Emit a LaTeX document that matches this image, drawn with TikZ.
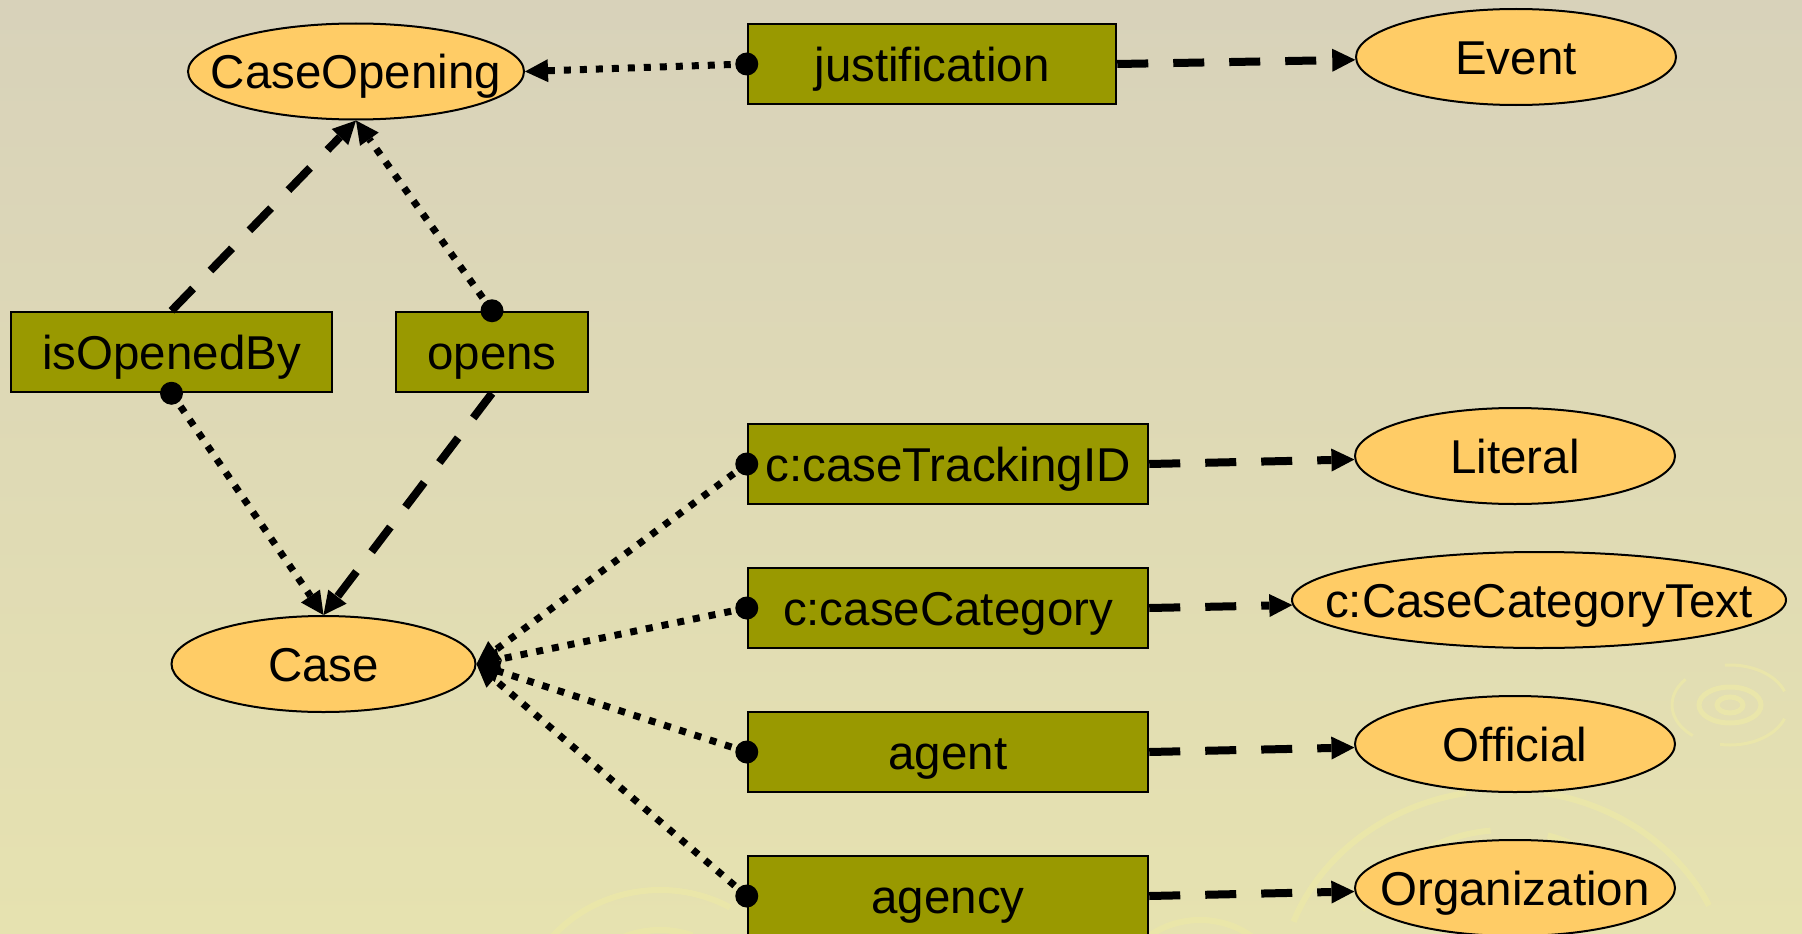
\documentclass[tikz,border=0pt]{standalone}
\usepackage{fontspec}
\setmainfont{Liberation Sans}
\usetikzlibrary{shapes.geometric,arrows.meta}
\definecolor{bgA}{RGB}{216,210,186}
\definecolor{bgB}{RGB}{230,226,176}
\definecolor{ringc}{RGB}{236,232,168}
\definecolor{boxfill}{RGB}{153,153,0}
\definecolor{ellfill}{RGB}{255,204,102}
\begin{document}
\begin{tikzpicture}[x=1pt,y=-1pt,
  every node/.style={font=\fontsize{47.5}{57}\selectfont, text=black, text height=34.5pt, text depth=0pt},
  prop/.style={draw=black, line width=2.5pt, fill=boxfill, rectangle, inner sep=0pt, minimum height=80pt},
  cls/.style={draw=black, line width=2pt, fill=ellfill, ellipse, inner sep=0pt, minimum height=96pt},
  dotline/.style={line width=7pt, dash pattern=on 7pt off 9pt},
  dashline/.style={line width=8pt, dash pattern=on 31pt off 25pt},
  tip/.style={-{Triangle[length=23pt,width=23pt,line width=0pt]}},
  orn/.style={draw=ringc, line width=6pt, opacity=0.8},
]
\useasboundingbox (0,0) rectangle (1802,934);
\shade[top color=bgA, middle color=bgA, bottom color=bgB] (0,0) rectangle (1802,934);

% faint background ornaments
\draw[orn, line width=5pt] (1730,705) ellipse [x radius=13pt, y radius=8pt];
\draw[orn, line width=5pt] (1730,705) ellipse [x radius=31pt, y radius=18pt];
\draw[orn, line width=3pt] (1730,705) ++(20:58pt and 40pt) arc[start angle=20, end angle=95, x radius=58pt, y radius=40pt];
\draw[orn, line width=3pt] (1730,705) ++(140:58pt and 40pt) arc[start angle=140, end angle=230, x radius=58pt, y radius=40pt];
\draw[orn, line width=3pt] (1730,705) ++(260:58pt and 40pt) arc[start angle=260, end angle=340, x radius=58pt, y radius=40pt];
\draw[orn] (1505,990) ++(25:225pt and 200pt) arc[start angle=25, end angle=80, x radius=225pt, y radius=200pt];
\draw[orn] (1505,990) ++(100:225pt and 200pt) arc[start angle=100, end angle=160, x radius=225pt, y radius=200pt];
\draw[orn] (1505,990) ++(35:165pt and 160pt) arc[start angle=35, end angle=75, x radius=165pt, y radius=160pt];
\draw[orn] (1505,990) ++(95:165pt and 160pt) arc[start angle=95, end angle=150, x radius=165pt, y radius=160pt];
\draw[orn] (1505,990) ++(40:105pt and 100pt) arc[start angle=40, end angle=140, x radius=105pt, y radius=100pt];
\draw[orn] (1200,990) ++(30:80pt and 70pt) arc[start angle=30, end angle=150, x radius=80pt, y radius=70pt];
\draw[orn] (660,1020) ++(60:140pt and 130pt) arc[start angle=60, end angle=150, x radius=140pt, y radius=130pt];
\draw[orn] (660,1020) ++(70:95pt and 90pt) arc[start angle=70, end angle=130, x radius=95pt, y radius=90pt];

% class nodes (ellipses)
\node[cls, minimum width=336pt] (co) at (356,71.5) {\makebox[0pt]{CaseOpening}};
\node[cls, minimum width=320pt] (event) at (1516,57) {\makebox[0pt]{Event}};
\node[cls, minimum width=304pt] (case) at (323.5,664) {\makebox[0pt]{Case}};
\node[cls, minimum width=320pt] (lit) at (1515,456) {\makebox[0pt]{Literal}};
\node[cls, minimum width=494pt] (cct) at (1539,600) {\makebox[0pt]{c:CaseCategoryText}};
\node[cls, minimum width=320pt] (off) at (1515,744) {\makebox[0pt]{Official}};
\node[cls, minimum width=320pt] (org) at (1515,888) {\makebox[0pt]{Organization}};

% property nodes (boxes)
\node[prop, minimum width=368pt] (just) at (932,64) {justification};
\node[prop, minimum width=321pt] (iob) at (171.5,352) {isOpenedBy};
\node[prop, minimum width=192pt] (opens) at (492,352) {opens};
\node[prop, minimum width=400pt] (track) at (948,464) {c:caseTrackingID};
\node[prop, minimum width=400pt] (cat) at (948,608) {c:caseCategory};
\node[prop, minimum width=400pt] (agent) at (948,752) {agent};
\node[prop, minimum width=400pt] (agency) at (948,896) {agency};

% domain connectors (dotted, dot at the property)
\draw[dotline, tip] (just.west) -- (co.east);
\draw[dotline, tip] (opens.north) -- (co.south);
\draw[dotline, tip] (iob.south) -- (case.north);
\draw[dotline, tip] (track.west) -- (case.east);
\draw[dotline, tip] (cat.west) -- (case.east);
\draw[dotline, tip] (agent.west) -- (case.east);
\draw[dotline, tip] (agency.west) -- (case.east);
\fill (just.west) circle[radius=11.5pt];
\fill (opens.north) circle[radius=11.5pt];
\fill (iob.south) circle[radius=11.5pt];
\fill (track.west) circle[radius=11.5pt];
\fill (cat.west) circle[radius=11.5pt];
\fill (agent.west) circle[radius=11.5pt];
\fill (agency.west) circle[radius=11.5pt];

% range connectors (dashed)
\draw[dashline, tip] (just.east) -- (event);
\draw[dashline, tip] (iob.north) -- (co.south);
\draw[dashline, tip] (opens.south) -- (case.north);
\draw[dashline, tip] (track.east) -- (lit);
\draw[dashline, tip] (cat.east) -- (cct);
\draw[dashline, tip] (agent.east) -- (off);
\draw[dashline, tip] (agency.east) -- (org);
\end{tikzpicture}
\end{document}
